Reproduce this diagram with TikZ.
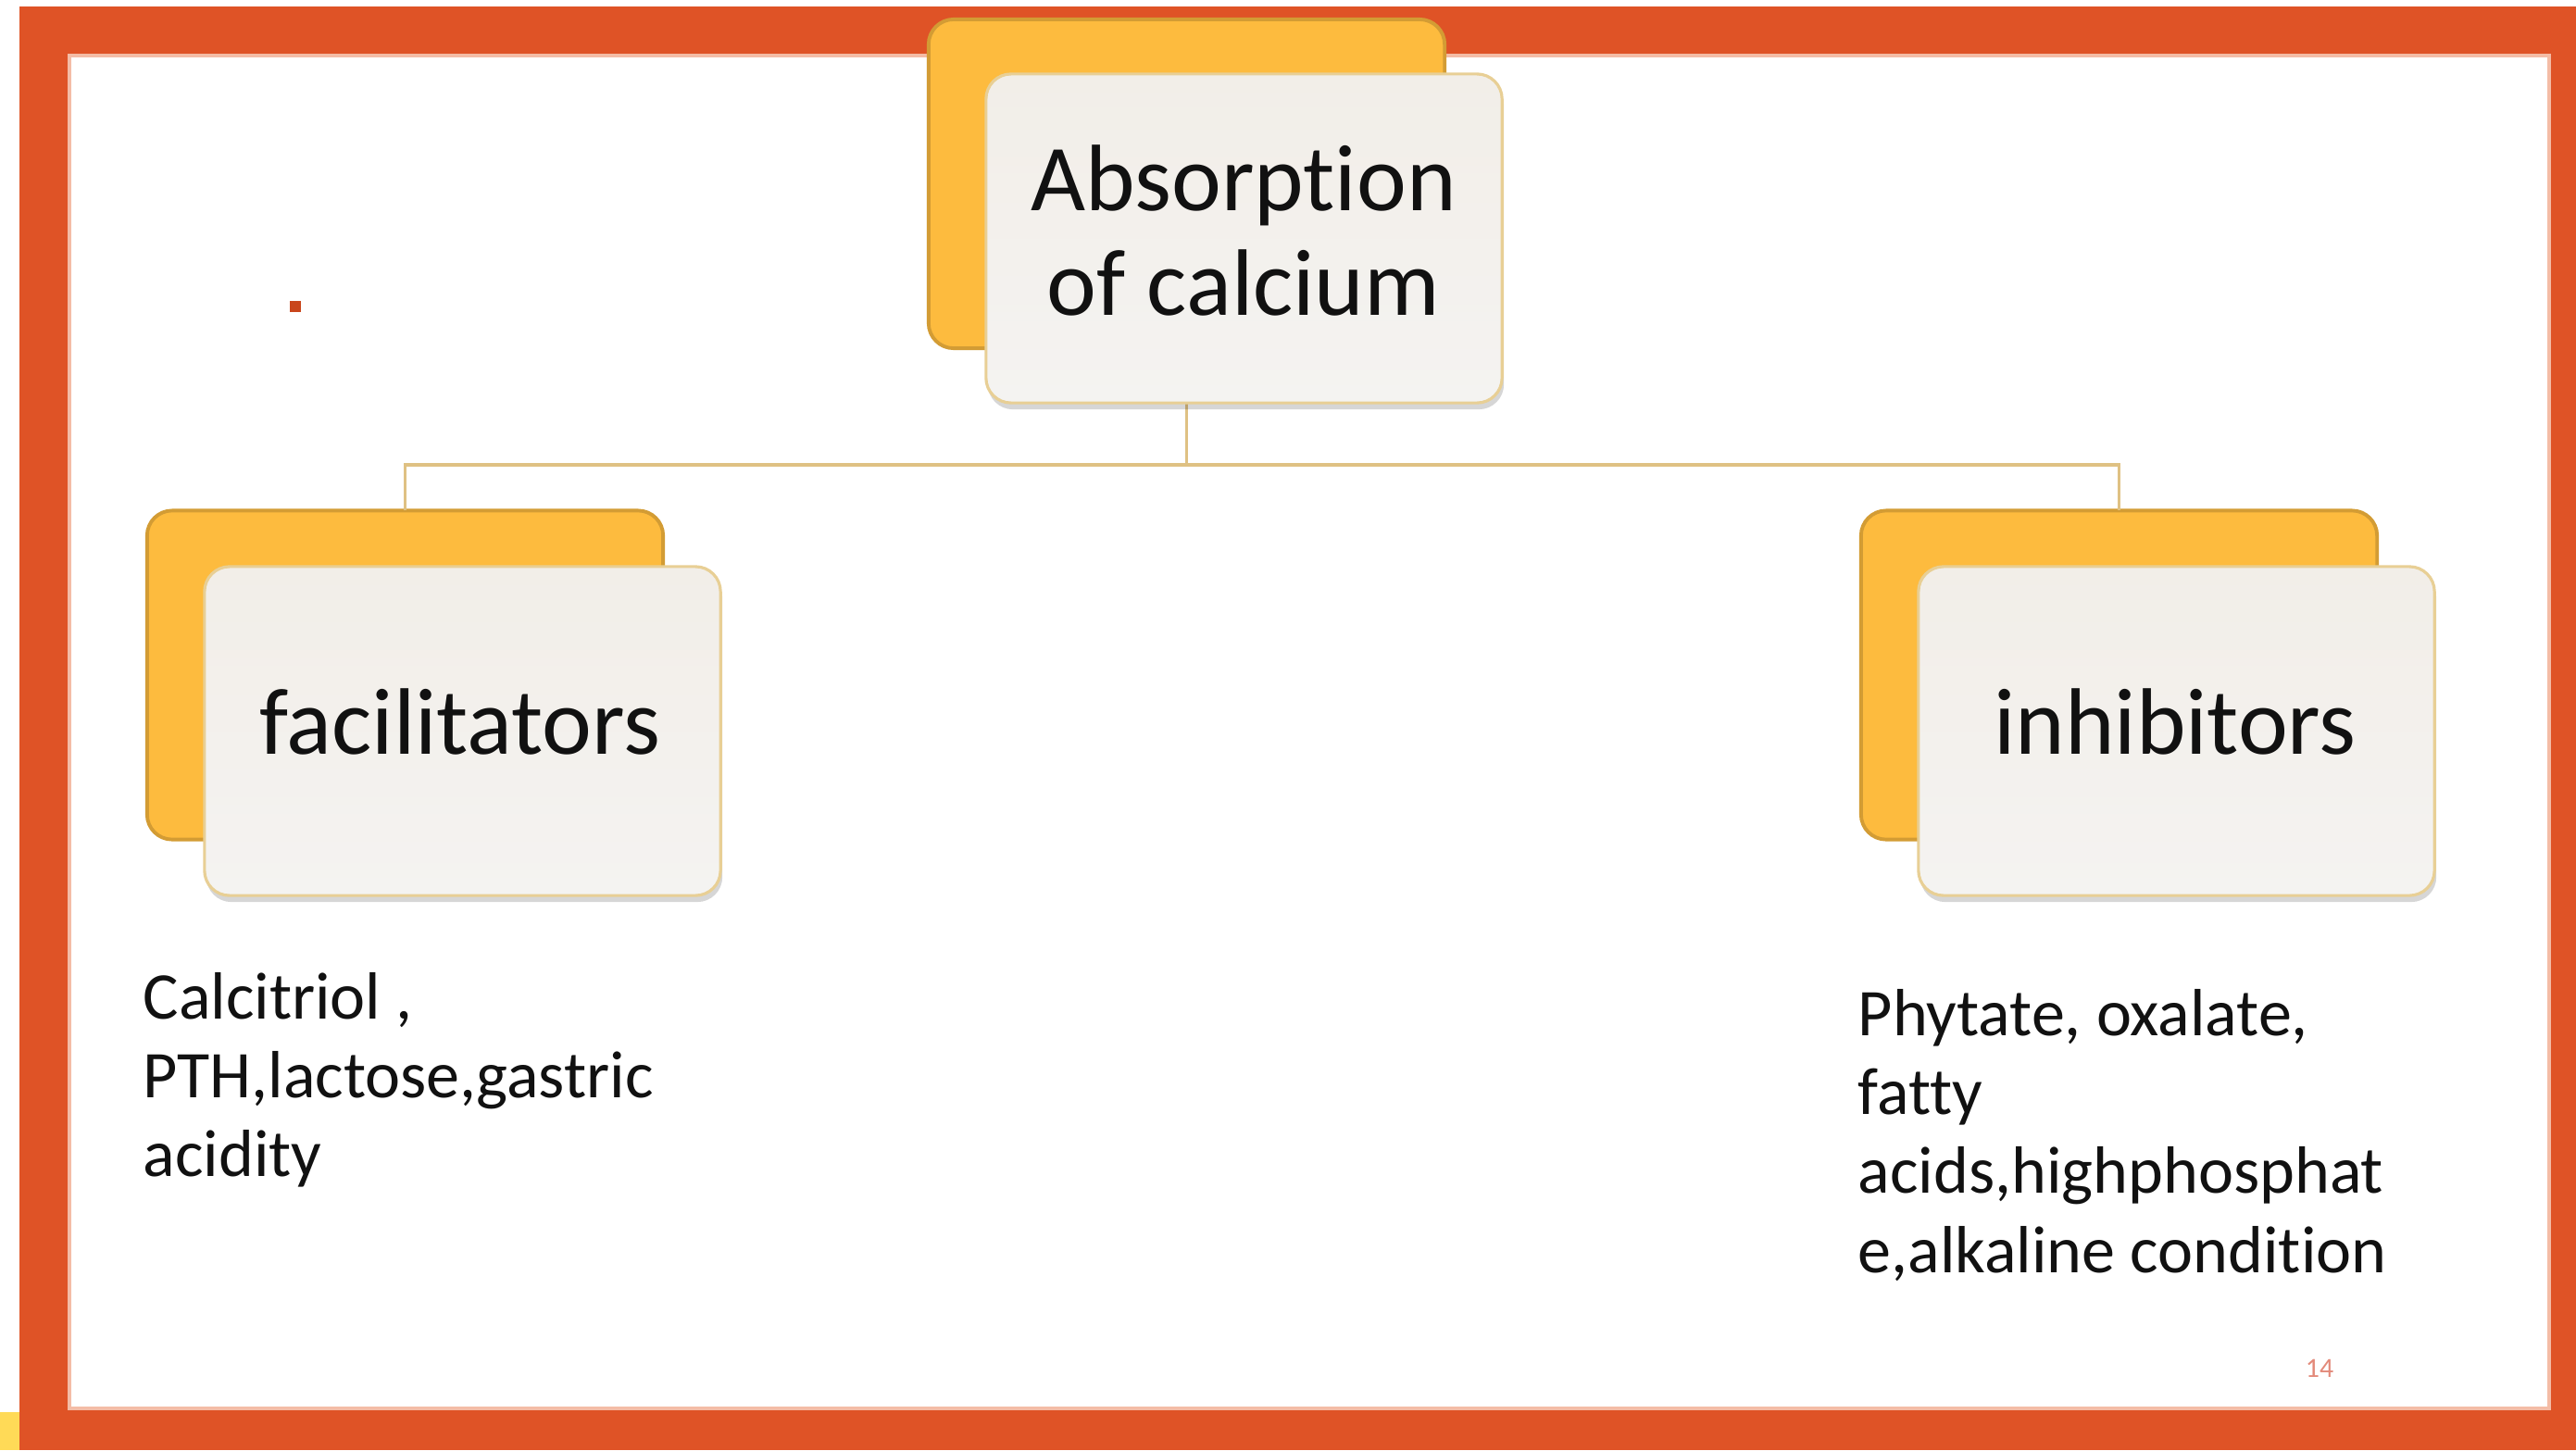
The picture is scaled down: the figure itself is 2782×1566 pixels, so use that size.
\documentclass[tikz,border=0pt]{standalone}
\usepackage{fontspec}
\setmainfont{Carlito}[Ligatures={NoCommon,NoRequired}]
\usetikzlibrary{shadows}
\definecolor{backfill}{HTML}{FDBB3E}
\definecolor{backedge}{HTML}{D39C34}
\definecolor{frontedge}{HTML}{E8CF95}
\definecolor{fronttop}{HTML}{F2EEE8}
\definecolor{frontbottom}{HTML}{F4F3F1}
\definecolor{connector}{HTML}{DFC183}
\definecolor{textblack}{HTML}{111111}
\definecolor{frameorange}{HTML}{DF5326}
\definecolor{frameinner}{HTML}{F4BCA6}
\definecolor{yellowsq}{HTML}{FFDA57}
\definecolor{dotred}{HTML}{C9461C}
\definecolor{pagenum}{HTML}{E38A7A}
\begin{document}
\begin{tikzpicture}[x=0.01cm,y=-0.01cm,
  backbox/.style={draw=backedge, line width=1.1pt, fill=backfill, rounded corners=0.27cm,
    minimum width=5.57cm, minimum height=3.55cm, inner sep=0pt, outer sep=0pt},
  frontbox/.style={draw=frontedge, line width=0.9pt, top color=fronttop, bottom color=frontbottom,
    rounded corners=0.27cm, minimum width=5.57cm, minimum height=3.55cm, inner sep=0pt, outer sep=0pt,
    drop shadow={shadow xshift=0.02cm, shadow yshift=-0.07cm, fill=black, opacity=0.16}},
  conn/.style={draw=connector, line width=1.1pt},
  headtext/.style={font=\fontsize{29}{31.9}\selectfont, text=textblack, inner sep=0pt, align=center},
  bodytext/.style={font=\fontsize{20.5}{24.2}\selectfont, text=textblack, inner sep=0pt, align=left, anchor=north west}]
\fill[white] (0,0) rectangle (2782,1566);
\useasboundingbox (0,0) rectangle (2782,1566);
% frame
\fill[frameorange] (21,7) rectangle (2782,1566);
\fill[white] (73,58) rectangle (2755,1523);
\draw[frameinner, line width=1.1pt] (75,60) rectangle (2753,1521);
\fill[yellowsq] (0,1525) rectangle (21,1566);
\fill[dotred] (313,325) rectangle (325,337);
% back boxes
\node[backbox] (topback) at (1281.5,198.5) {};
\node[backbox] (leftback) at (437.5,729) {};
\node[backbox] (rightback) at (2288.5,729) {};
% connectors
\coordinate (bus) at (1281.5,502);
\draw[conn] (topback.south) -- (bus);
\draw[conn] (leftback.north) |- (bus) -| (rightback.north);
% front boxes
\node[frontbox] (topfront) at (1343.5,257.5) {};
\node[frontbox] (leftfront) at (499.5,789.5) {};
\node[frontbox] (rightfront) at (2350.5,789.5) {};
% labels
\node[headtext] (toplabel) at (1343,249) {Absorption\\of calcium};
\node[headtext] (leftlabel) at (497,779) {facilitators};
\node[headtext] (rightlabel) at (2349,779) {inhibitors};
% body texts
\node[bodytext] (lefttext) at (154,1050) {Calcitriol ,\\PTH,lactose,gastric\\acidity};
\node[bodytext] (righttext) at (2006,1068) {Phytate, oxalate,\\fatty\\acids,highphosphat\\e,alkaline condition};
\node[font=\fontsize{8.5}{10}\selectfont, text=pagenum, inner sep=0pt] (pagenumber) at (2505,1478) {14};
\end{tikzpicture}
\end{document}
